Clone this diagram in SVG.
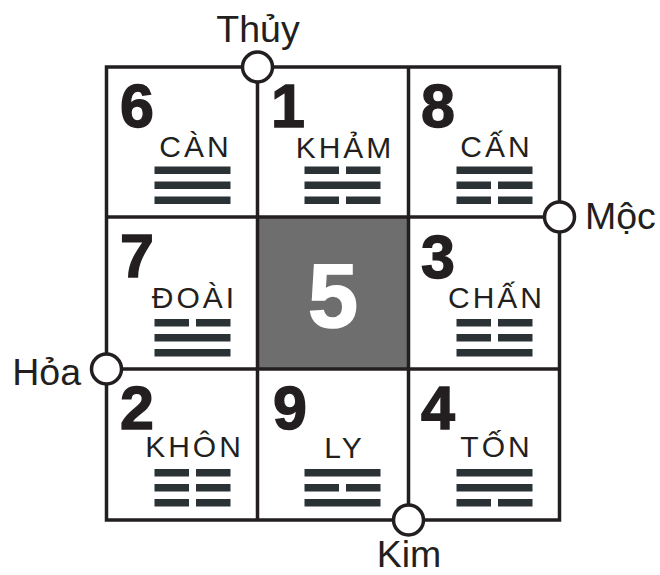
<svg xmlns="http://www.w3.org/2000/svg" width="660" height="575" viewBox="0 0 660 575">
<style>
.grid{stroke:#231f20;stroke-width:3.5;fill:none}
.num{font-family:"Liberation Sans",Arial,sans-serif;font-weight:bold;font-size:61px;fill:#231f20;stroke:#231f20;stroke-width:1.4;text-anchor:middle}
.name{font-family:"Liberation Sans",Arial,sans-serif;font-size:30px;letter-spacing:3px;fill:#231f20;text-anchor:middle}
.lbl{font-family:"Liberation Sans",Arial,sans-serif;font-size:37.5px;fill:#231f20}
.bar{fill:#2a3236}
.dot{fill:#fff;stroke:#231f20;stroke-width:3.5}
</style>
<rect width="660" height="575" fill="#fff"/>
<g id="center">
<rect x="257.5" y="217" width="151" height="152" fill="#6e6e6e"/>
<text x="333" y="327" font-family="Liberation Sans,Arial,sans-serif" font-weight="bold" font-size="90" fill="#fff" stroke="#fff" stroke-width="1.6" text-anchor="middle">5</text>
</g>
<g id="connectors" class="grid">
<rect x="106.5" y="67" width="453" height="453"/>
<line x1="257.5" y1="67" x2="257.5" y2="520"/>
<line x1="408.5" y1="67" x2="408.5" y2="520"/>
<line x1="106.5" y1="217" x2="559.5" y2="217"/>
<line x1="106.5" y1="369" x2="559.5" y2="369"/>
</g>
<g id="can">
<text class="num" x="137" y="127">6</text>
<text class="name" x="195.5" y="157">CÀN</text>
<rect class="bar" x="154.5" y="166.5" width="76" height="7.5"/>
<rect class="bar" x="154.5" y="181.5" width="76" height="7.5"/>
<rect class="bar" x="154.5" y="196.5" width="76" height="7.5"/>
</g>
<g id="kham">
<text class="num" x="288" y="127">1</text>
<text class="name" x="345" y="158">KHẢM</text>
<rect class="bar" x="304.5" y="166.5" width="34.5" height="7.5"/>
<rect class="bar" x="346" y="166.5" width="34.5" height="7.5"/>
<rect class="bar" x="304.5" y="181.5" width="76" height="7.5"/>
<rect class="bar" x="304.5" y="196.5" width="34.5" height="7.5"/>
<rect class="bar" x="346" y="196.5" width="34.5" height="7.5"/>
</g>
<g id="canmountain">
<text class="num" x="438" y="127">8</text>
<text class="name" x="496.5" y="157">CẤN</text>
<rect class="bar" x="456.5" y="166.5" width="76" height="7.5"/>
<rect class="bar" x="456.5" y="181.5" width="34.5" height="7.5"/>
<rect class="bar" x="498" y="181.5" width="34.5" height="7.5"/>
<rect class="bar" x="456.5" y="196.5" width="34.5" height="7.5"/>
<rect class="bar" x="498" y="196.5" width="34.5" height="7.5"/>
</g>
<g id="doai">
<text class="num" x="137" y="277">7</text>
<text class="name" x="194.5" y="308">ĐOÀI</text>
<rect class="bar" x="154.5" y="319" width="34.5" height="7.5"/>
<rect class="bar" x="196" y="319" width="34.5" height="7.5"/>
<rect class="bar" x="154.5" y="334" width="76" height="7.5"/>
<rect class="bar" x="154.5" y="349" width="76" height="7.5"/>
</g>
<g id="chan">
<text class="num" x="438" y="278">3</text>
<text class="name" x="496.5" y="308">CHẤN</text>
<rect class="bar" x="456.5" y="319" width="34.5" height="7.5"/>
<rect class="bar" x="498" y="319" width="34.5" height="7.5"/>
<rect class="bar" x="456.5" y="334" width="34.5" height="7.5"/>
<rect class="bar" x="498" y="334" width="34.5" height="7.5"/>
<rect class="bar" x="456.5" y="349" width="76" height="7.5"/>
</g>
<g id="khon">
<text class="num" x="137" y="428.5">2</text>
<text class="name" x="194.5" y="457">KHÔN</text>
<rect class="bar" x="154.5" y="469" width="34.5" height="7.5"/>
<rect class="bar" x="196" y="469" width="34.5" height="7.5"/>
<rect class="bar" x="154.5" y="484" width="34.5" height="7.5"/>
<rect class="bar" x="196" y="484" width="34.5" height="7.5"/>
<rect class="bar" x="154.5" y="499" width="34.5" height="7.5"/>
<rect class="bar" x="196" y="499" width="34.5" height="7.5"/>
</g>
<g id="ly">
<text class="num" x="290" y="429">9</text>
<text class="name" x="344.5" y="458">LY</text>
<rect class="bar" x="304.5" y="469" width="76" height="7.5"/>
<rect class="bar" x="304.5" y="484" width="34.5" height="7.5"/>
<rect class="bar" x="346" y="484" width="34.5" height="7.5"/>
<rect class="bar" x="304.5" y="499" width="76" height="7.5"/>
</g>
<g id="ton">
<text class="num" x="438" y="428.5">4</text>
<text class="name" x="496.5" y="457">TỐN</text>
<rect class="bar" x="456.5" y="469" width="76" height="7.5"/>
<rect class="bar" x="456.5" y="484" width="76" height="7.5"/>
<rect class="bar" x="456.5" y="499" width="34.5" height="7.5"/>
<rect class="bar" x="498" y="499" width="34.5" height="7.5"/>
</g>
<g id="thuy">
<circle class="dot" cx="257.5" cy="67" r="15"/>
<text class="lbl" x="258" y="42" text-anchor="middle">Thủy</text>
</g>
<g id="moc">
<circle class="dot" cx="559.5" cy="217" r="15"/>
<text class="lbl" x="585" y="229">Mộc</text>
</g>
<g id="hoa">
<circle class="dot" cx="106.5" cy="369" r="15"/>
<text class="lbl" x="81" y="385" text-anchor="end">Hỏa</text>
</g>
<g id="kim">
<circle class="dot" cx="408.5" cy="520" r="15"/>
<text class="lbl" x="409" y="567" text-anchor="middle">Kim</text>
</g>
</svg>
